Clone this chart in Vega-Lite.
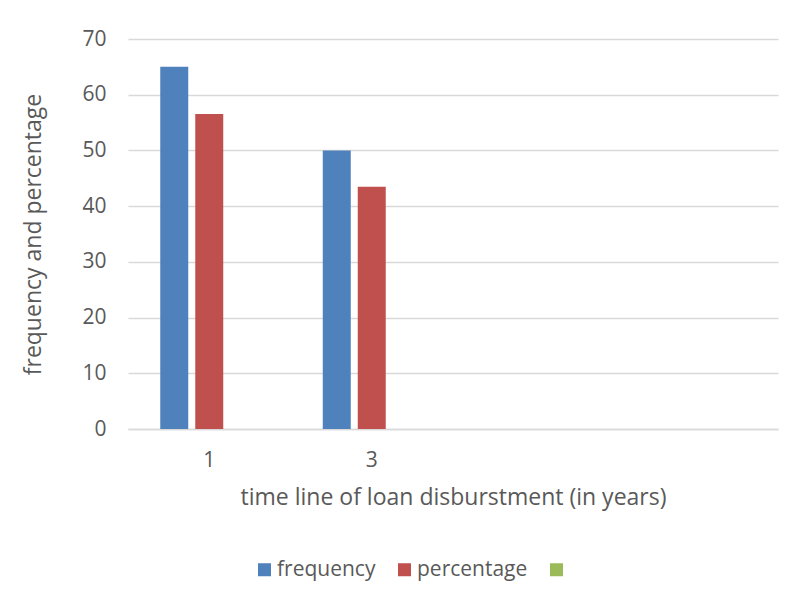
{
  "$schema": "https://vega.github.io/schema/vega-lite/v6.json",
  "autosize": {"type": "none"},
  "width": 650,
  "height": 390,
  "padding": {"left": 128, "top": 39, "right": 16, "bottom": 173},
  "background": "white",
  "config": {
    "font": "Open Sans",
    "view": {"stroke": null},
    "axis": {"labelColor": "#595959", "titleColor": "#595959", "titleFontWeight": "normal"}
  },
  "data": {
    "values": [
      {"year": "1", "series": "frequency", "value": 65},
      {"year": "1", "series": "percentage", "value": 56.52},
      {"year": "3", "series": "frequency", "value": 50},
      {"year": "3", "series": "percentage", "value": 43.48}
    ]
  },
  "mark": {"type": "bar"},
  "encoding": {
    "x": {
      "field": "year",
      "type": "nominal",
      "scale": {"domain": ["1", "3", " ", "  "], "paddingInner": 0.354, "paddingOuter": 0.177},
      "axis": {
        "title": "time line of loan disburstment (in years)",
        "labelAngle": 0,
        "labelFontSize": 21,
        "labelPadding": 20,
        "titleFontSize": 23,
        "titlePadding": 16,
        "ticks": false,
        "domainColor": "#d9d9d9",
        "domainWidth": 1.5
      }
    },
    "xOffset": {
      "field": "series",
      "scale": {"domain": ["frequency", "percentage", " "], "paddingInner": 0.2, "paddingOuter": 0.1}
    },
    "y": {
      "field": "value",
      "type": "quantitative",
      "scale": {"domain": [0, 70]},
      "axis": {
        "title": "frequency and percentage",
        "values": [0, 10, 20, 30, 40, 50, 60, 70],
        "labelFontSize": 21,
        "labelPadding": 22,
        "titleFontSize": 23,
        "titlePadding": 36,
        "ticks": false,
        "domain": false,
        "gridColor": "#d9d9d9",
        "gridWidth": 1.5
      }
    },
    "color": {
      "field": "series",
      "type": "nominal",
      "scale": {"domain": ["frequency", "percentage", " "], "range": ["#4f81bd", "#c0504d", "#9bbb59"]},
      "legend": {
        "title": null,
        "orient": "none",
        "legendX": 126,
        "legendY": 520,
        "direction": "horizontal",
        "columns": 3,
        "symbolType": "square",
        "symbolSize": 169,
        "symbolStrokeWidth": 0,
        "labelFontSize": 21,
        "labelColor": "#595959",
        "labelOffset": 2,
        "columnPadding": 18
      }
    }
  }
}
